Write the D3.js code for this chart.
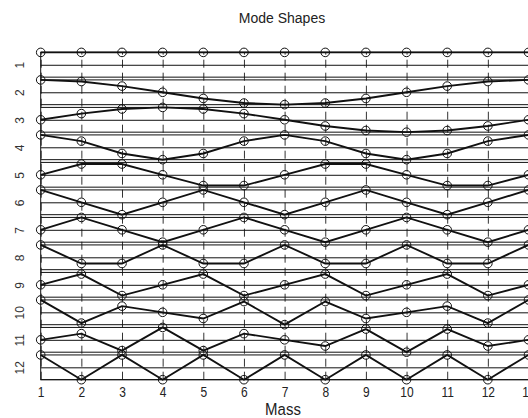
<!DOCTYPE html>
<html>
<head>
<meta charset="utf-8">
<script src="https://cdn.jsdelivr.net/npm/d3@7"></script>
<style>
  html, body { margin: 0; padding: 0; background: #fff; }
  svg { display: block; font-family: "Liberation Sans", Arial, sans-serif; }
</style>
</head>
<body>
<svg id="chart" width="528" height="418"></svg>
<script>
// Mass positions along the ring (mass 13 closes the loop back onto mass 1)
const masses = [1, 2, 3, 4, 5, 6, 7, 8, 9, 10, 11, 12, 13];
const modeNumbers = [1, 2, 3, 4, 5, 6, 7, 8, 9, 10, 11, 12];

// Normalised displacement of each mass, one array per mode
const mode1  = [1, 1, 1, 1, 1, 1, 1, 1, 1, 1, 1, 1, 1];
const mode2  = [1, 0.87, 0.5, 0, -0.5, -0.87, -1, -0.87, -0.5, 0, 0.5, 0.87, 1];
const mode3  = [0, 0.5, 0.87, 1, 0.87, 0.5, 0, -0.5, -0.87, -1, -0.87, -0.5, 0];
const mode4  = [1, 0.5, -0.5, -1, -0.5, 0.5, 1, 0.5, -0.5, -1, -0.5, 0.5, 1];
const mode5  = [0, 0.87, 0.87, 0, -0.87, -0.87, 0, 0.87, 0.87, 0, -0.87, -0.87, 0];
const mode6  = [1, 0, -1, 0, 1, 0, -1, 0, 1, 0, -1, 0, 1];
const mode7  = [0, 1, 0, -1, 0, 1, 0, -1, 0, 1, 0, -1, 0];
const mode8  = [1, -0.5, -0.5, 1, -0.5, -0.5, 1, -0.5, -0.5, 1, -0.5, -0.5, 1];
const mode9  = [0, 0.87, -0.87, 0, 0.87, -0.87, 0, 0.87, -0.87, 0, 0.87, -0.87, 0];
const mode10 = [1, -0.87, 0.5, 0, -0.5, 0.87, -1, 0.87, -0.5, 0, 0.5, -0.87, 1];
const mode11 = [0, 0.5, -0.87, 1, -0.87, 0.5, 0, -0.5, 0.87, -1, 0.87, -0.5, 0];
const mode12 = [1, -1, 1, -1, 1, -1, 1, -1, 1, -1, 1, -1, 1];

const modes = [mode1, mode2, mode3, mode4, mode5, mode6,
               mode7, mode8, mode9, mode10, mode11, mode12];

const xTicks = [1, 2, 3, 4, 5, 6, 7, 8, 9, 10, 11, 12, 13];
const yTicks = [1, 2, 3, 4, 5, 6, 7, 8, 9, 10, 11, 12];

// Half-height of each mode strip, in mode-axis units
const amp = 0.45;

const plotLeft = 40.7, plotRight = 528.5, plotTop = 52.4, plotBottom = 379.7;
const svg = d3.select("#chart");

const x = d3.scaleLinear().domain([1, 13]).range([plotLeft, plotRight]);
const y = d3.scaleLinear().domain([1 - amp, 12 + amp]).range([plotTop, plotBottom]);

const ink = "#111";

// Vertical dashed guides at every mass, drawn as full-height ticks
const xAxis = svg.append("g")
  .attr("transform", `translate(0,${plotBottom})`)
  .call(d3.axisBottom(x).tickValues(xTicks).tickSize(-(plotBottom - plotTop)).tickFormat(d3.format("d")));
xAxis.select(".domain").remove();
xAxis.selectAll(".tick line")
  .attr("stroke", "#333").attr("stroke-width", 1).attr("stroke-dasharray", "8,5");
xAxis.selectAll(".tick text")
  .attr("y", 0).attr("dy", 0)
  .attr("transform", "translate(0,17.3) scale(1,1.2)")
  .attr("font-size", 12).attr("fill", "#222");

// Mode baselines as full-width ticks, labels rotated like an R side axis
const yAxis = svg.append("g")
  .attr("transform", `translate(${plotLeft},0)`)
  .call(d3.axisLeft(y).tickValues(yTicks).tickSize(-(plotRight - plotLeft)).tickFormat(d3.format("d")));
yAxis.select(".domain").remove();
yAxis.selectAll(".tick line").attr("stroke", ink).attr("stroke-width", 1);
yAxis.selectAll(".tick text")
  .attr("x", 0).attr("dy", 0)
  .attr("text-anchor", "middle")
  .attr("transform", `translate(${24 - plotLeft},0) rotate(-90)`)
  .attr("font-size", 12).attr("fill", "#333");

// Upper and lower limits of every mode strip
const limits = modeNumbers.flatMap(k => [k - amp, k + amp]);
svg.append("g").selectAll("line")
  .data(limits).join("line")
  .attr("x1", plotLeft).attr("x2", plotRight)
  .attr("y1", d => y(d)).attr("y2", d => y(d))
  .attr("stroke", ink).attr("stroke-width", 1);

// Mode shape curves with open markers at each mass
const line = d3.line()
  .x((v, i) => x(masses[i]))
  .y(v => v);

modes.forEach((vals, m) => {
  const k = modeNumbers[m];
  const ys = vals.map(v => y(k - amp * v));
  const g = svg.append("g");
  g.append("path")
    .attr("d", line(ys))
    .attr("fill", "none").attr("stroke", ink).attr("stroke-width", 1.9);
  g.selectAll("circle")
    .data(ys).join("circle")
    .attr("cx", (d, i) => x(masses[i]))
    .attr("cy", d => d)
    .attr("r", 4.3)
    .attr("fill", "none").attr("stroke", ink).attr("stroke-width", 1);
});

// Plot frame
svg.append("rect")
  .attr("x", plotLeft).attr("y", plotTop)
  .attr("width", plotRight - plotLeft).attr("height", plotBottom - plotTop)
  .attr("fill", "none").attr("stroke", ink).attr("stroke-width", 1);

// Titles
svg.append("text")
  .attr("x", 282).attr("y", 22.5)
  .attr("text-anchor", "middle")
  .attr("font-size", 14).attr("fill", "#222")
  .text("Mode Shapes");

svg.append("text")
  .attr("text-anchor", "middle")
  .attr("transform", "translate(283,415) scale(1,1.05)")
  .attr("font-size", 15).attr("fill", "#222")
  .text("Mass");
</script>
</body>
</html>
